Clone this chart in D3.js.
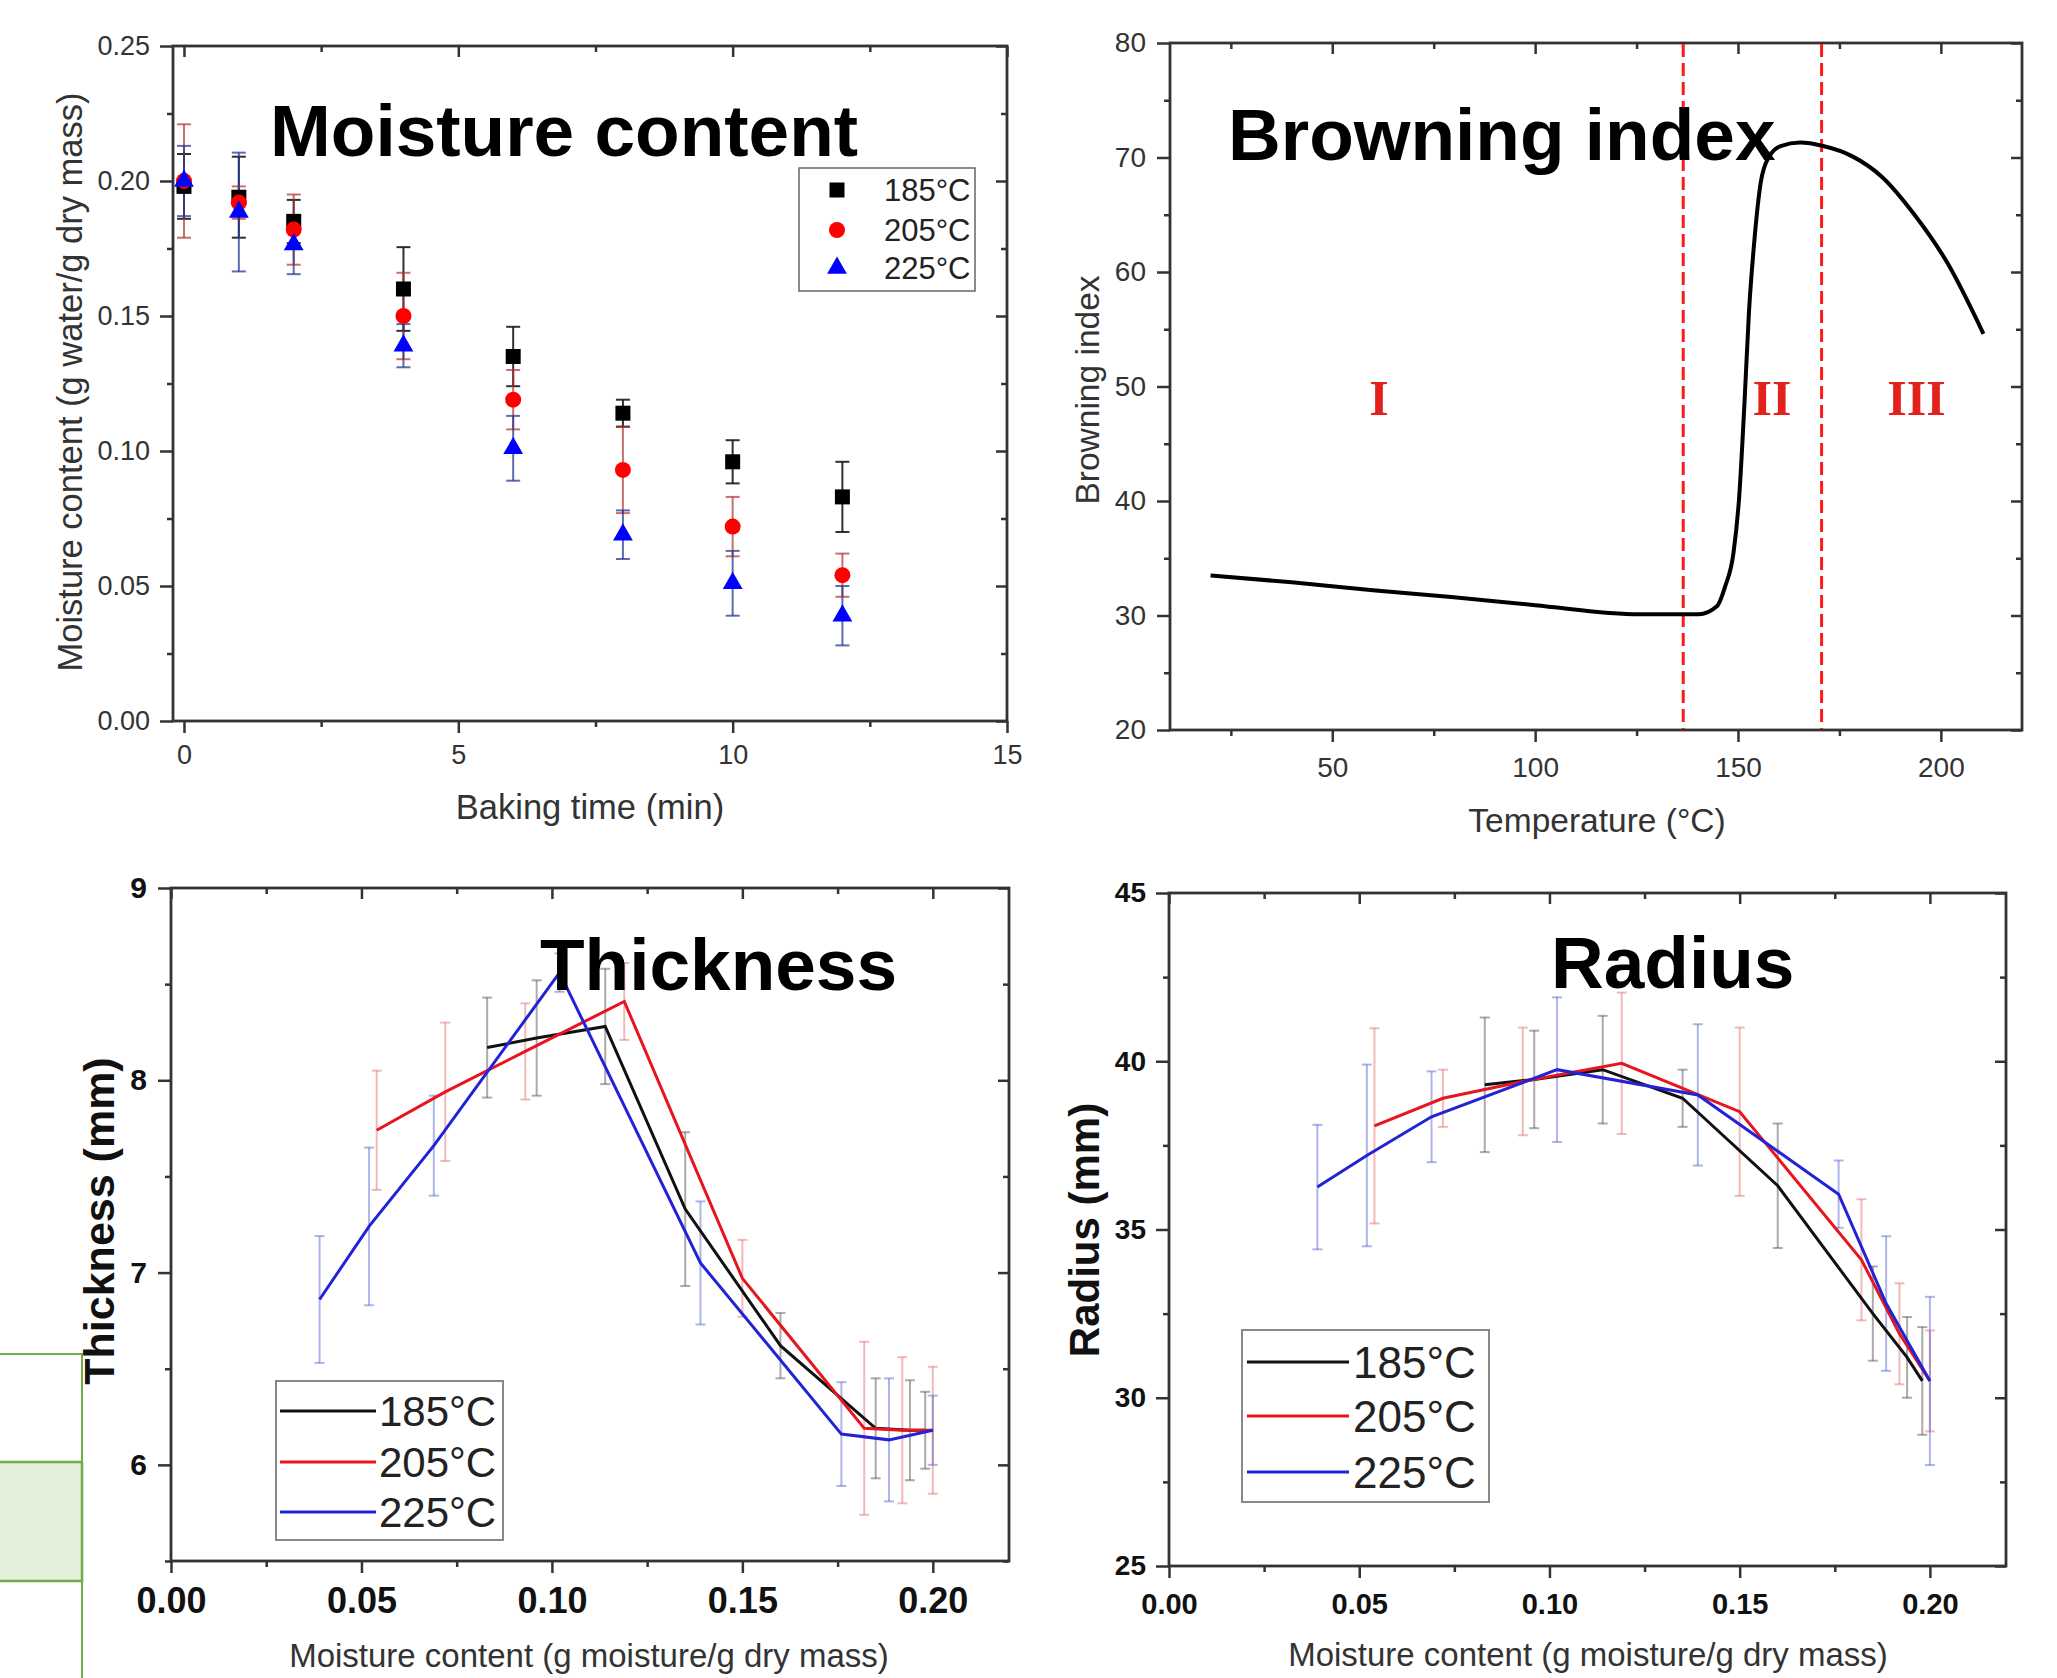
<!DOCTYPE html>
<html><head><meta charset="utf-8">
<script src="https://d3js.org/d3.v7.min.js"></script>
<style>
html,body{margin:0;padding:0;background:#fff;}
svg{display:block;}
</style></head>
<body>
<script>
// ---------- DATA ----------
// Panel 1: moisture content vs baking time
const bakingTimes = [0, 1, 2, 4, 6, 8, 10, 12];
const mc185 = [0.198, 0.194, 0.185, 0.160, 0.135, 0.114, 0.096, 0.083];
const mc185Err = [0.012, 0.015, 0.008, 0.0155, 0.011, 0.005, 0.008, 0.013];
const mc205 = [0.200, 0.192, 0.182, 0.150, 0.119, 0.093, 0.072, 0.054];
const mc205Err = [0.021, 0.006, 0.013, 0.016, 0.011, 0.016, 0.011, 0.008];
const mc225 = [0.200, 0.1885, 0.1765, 0.139, 0.101, 0.069, 0.051, 0.039];
const mc225Err = [0.013, 0.022, 0.011, 0.008, 0.012, 0.009, 0.012, 0.011];
const seriesLabels = ["185°C", "205°C", "225°C"];

// Panel 2: browning index vs temperature
const biTemp = [20, 40, 60, 80, 100, 125.8, 140.3, 144.8, 146.8, 148.9, 150.3, 151.6, 152.7, 154, 155.6, 157.7, 160.5, 165.3, 171, 178.2, 185.5, 193.5, 201.6, 210.5];
const biValue = [33.5, 32.9, 32.2, 31.6, 30.9, 30.1, 30.1, 30.8, 32.5, 35.5, 40.4, 48.6, 56.5, 62.6, 67.8, 70.1, 71.0, 71.3, 71.0, 70.1, 68.3, 65.0, 60.8, 54.6];
const zoneBounds = [136.5, 170.6];
const zoneLabels = ["I", "II", "III"];
const zoneLabelX = [61.5, 158.4, 194];

// Panel 3 & 4: thickness and radius vs moisture content
const mcX185 = [0.083, 0.096, 0.114, 0.135, 0.160, 0.185, 0.194, 0.198];
const mcX205 = [0.054, 0.072, 0.093, 0.119, 0.150, 0.182, 0.192, 0.200];
const mcX225 = [0.039, 0.052, 0.069, 0.102, 0.139, 0.176, 0.1885, 0.200];

const thick185 = [8.17, 8.22, 8.28, 7.33, 6.62, 6.19, 6.18, 6.18];
const thick185Err = [0.26, 0.30, 0.30, 0.40, 0.17, 0.26, 0.26, 0.20];
const thick205 = [7.74, 7.94, 8.15, 8.41, 6.97, 6.19, 6.18, 6.18];
const thick205Err = [0.31, 0.36, 0.25, 0.20, 0.20, 0.45, 0.38, 0.33];
const thick225 = [6.86, 7.24, 7.66, 8.56, 7.05, 6.16, 6.13, 6.18];
const thick225Err = [0.33, 0.41, 0.26, 0.10, 0.32, 0.27, 0.32, 0.18];

const rad185 = [39.3, 39.46, 39.75, 38.9, 36.3, 32.5, 31.2, 30.5];
const rad185Err = [2.0, 1.45, 1.6, 0.85, 1.85, 1.4, 1.2, 1.6];
const rad205 = [38.08, 38.9, 39.4, 39.94, 38.5, 34.1, 31.9, 30.5];
const rad205Err = [2.9, 0.85, 1.6, 2.1, 2.5, 1.8, 1.5, 1.5];
const rad225 = [36.26, 37.2, 38.35, 39.75, 39.0, 36.05, 32.8, 30.5];
const rad225Err = [1.85, 2.7, 1.35, 2.15, 2.1, 1.0, 2.0, 2.5];

// ---------- RENDER ----------
const W = 2057, H = 1678;
const svg = d3.select("body").append("svg").attr("width", W).attr("height", H)
  .style("font-family", "'Liberation Sans', Arial, sans-serif");

const colors = ["#000000", "#ff0000", "#0000ff"];

function range(a, b, s) { const r = []; for (let v = a; v <= b + 1e-9; v += s) r.push(+v.toFixed(6)); return r; }

function panel(cfg) {
  const x = d3.scaleLinear().domain(cfg.xd).range([cfg.x0, cfg.x1]);
  const y = d3.scaleLinear().domain(cfg.yd).range([cfg.y1, cfg.y0]);
  const g = svg.append("g");
  const axCol = "#333";
  const xMajor = cfg.xMajor, xMinor = cfg.xMinor.filter(v => !xMajor.some(m => Math.abs(m - v) < 1e-9));
  const yMajor = cfg.yMajor, yMinor = cfg.yMinor.filter(v => !yMajor.some(m => Math.abs(m - v) < 1e-9));
  function styleAxis(sel, fs, bold, col) {
    sel.select(".domain").remove();
    sel.selectAll("line").attr("stroke", axCol).attr("stroke-width", 2.5);
    sel.selectAll("text").attr("font-size", fs).attr("font-weight", bold ? "bold" : "normal")
      .attr("fill", col).attr("font-family", "'Liberation Sans', Arial, sans-serif");
  }
  // bottom
  g.append("g").attr("transform", `translate(0,${cfg.y1})`)
    .call(d3.axisBottom(x).tickValues(xMinor).tickSize(6).tickFormat("")).call(s => styleAxis(s));
  g.append("g").attr("transform", `translate(0,${cfg.y1})`)
    .call(d3.axisBottom(x).tickValues(xMajor).tickSize(12).tickPadding(cfg.xPad).tickFormat(cfg.xFmt))
    .call(s => styleAxis(s, cfg.xfs, cfg.bold, cfg.tickCol));
  // top (inward)
  g.append("g").attr("transform", `translate(0,${cfg.y0})`)
    .call(d3.axisTop(x).tickValues(xMinor).tickSize(-6).tickFormat("")).call(s => styleAxis(s));
  g.append("g").attr("transform", `translate(0,${cfg.y0})`)
    .call(d3.axisTop(x).tickValues(xMajor).tickSize(-11).tickFormat("")).call(s => styleAxis(s));
  // left
  g.append("g").attr("transform", `translate(${cfg.x0},0)`)
    .call(d3.axisLeft(y).tickValues(yMinor).tickSize(6).tickFormat("")).call(s => styleAxis(s));
  g.append("g").attr("transform", `translate(${cfg.x0},0)`)
    .call(d3.axisLeft(y).tickValues(yMajor).tickSize(13).tickPadding(cfg.yPad).tickFormat(cfg.yFmt))
    .call(s => styleAxis(s, cfg.yfs, cfg.bold, cfg.tickCol));
  // right (inward)
  g.append("g").attr("transform", `translate(${cfg.x1},0)`)
    .call(d3.axisRight(y).tickValues(yMinor).tickSize(-6).tickFormat("")).call(s => styleAxis(s));
  g.append("g").attr("transform", `translate(${cfg.x1},0)`)
    .call(d3.axisRight(y).tickValues(yMajor).tickSize(-11).tickFormat("")).call(s => styleAxis(s));
  // frame
  g.append("rect").attr("x", cfg.x0).attr("y", cfg.y0).attr("width", cfg.x1 - cfg.x0).attr("height", cfg.y1 - cfg.y0)
    .attr("fill", "none").attr("stroke", axCol).attr("stroke-width", 2.8);
  return { x, y, g };
}

function errBars(g, x, y, xs, ys, es, col, op, cap, sw) {
  xs.forEach((xv, i) => {
    const px = x(xv), yt = y(ys[i] + es[i]), yb = y(ys[i] - es[i]);
    g.append("line").attr("x1", px).attr("x2", px).attr("y1", yt).attr("y2", yb)
      .attr("stroke", col).attr("stroke-opacity", op).attr("stroke-width", sw);
    [yt, yb].forEach(yy => g.append("line").attr("x1", px - cap).attr("x2", px + cap).attr("y1", yy).attr("y2", yy)
      .attr("stroke", col).attr("stroke-opacity", op).attr("stroke-width", sw));
  });
}

// Green boxes (background decoration, left edge)
svg.append("rect").attr("x", -3).attr("y", 1354).attr("width", 85).attr("height", 108)
  .attr("fill", "#ffffff").attr("stroke", "#70ad47").attr("stroke-width", 2);
svg.append("rect").attr("x", -3).attr("y", 1462).attr("width", 85).attr("height", 119)
  .attr("fill", "#e2efda").attr("stroke", "#70ad47").attr("stroke-width", 2.5);
svg.append("line").attr("x1", 82).attr("x2", 82).attr("y1", 1581).attr("y2", H)
  .attr("stroke", "#70ad47").attr("stroke-width", 2);

// ---------- Panel 1 ----------
{
  const p = panel({ x0: 173, x1: 1007, y0: 46, y1: 721, xd: [-0.2, 15], yd: [0, 0.25],
    xMajor: [0, 5, 10, 15], xMinor: range(0, 15, 2.5), yMajor: range(0, 0.25, 0.05), yMinor: range(0, 0.25, 0.025),
    xFmt: d3.format("d"), yFmt: d3.format(".2f"), xfs: 27, yfs: 27, xPad: 12, yPad: 10, bold: false, tickCol: "#333" });
  const sets = [[mc185, mc185Err, "#1a1a1a", 0.9], [mc205, mc205Err, "#b03030", 0.7], [mc225, mc225Err, "#283c8c", 0.75]];
  sets.forEach(s => errBars(p.g, p.x, p.y, bakingTimes, s[0], s[1], s[2], s[3], 7, 2));
  const syms = [d3.symbol().type(d3.symbolSquare).size(225), d3.symbol().type(d3.symbolCircle).size(200), d3.symbol().type(d3.symbolTriangle).size(170)];
  [mc185, mc205, mc225].forEach((vals, k) => {
    p.g.selectAll(null).data(vals).enter().append("path").attr("d", syms[k]())
      .attr("transform", (d, i) => `translate(${p.x(bakingTimes[i])},${p.y(d)})`).attr("fill", colors[k]);
  });
  // legend
  const lg = svg.append("g");
  lg.append("rect").attr("x", 799).attr("y", 168).attr("width", 176).attr("height", 123)
    .attr("fill", "#fff").attr("stroke", "#666").attr("stroke-width", 1.5);
  [190, 230, 268].forEach((yy, k) => {
    lg.append("path").attr("d", syms[k]()).attr("transform", `translate(837,${yy})`).attr("fill", colors[k]);
    lg.append("text").attr("x", 884).attr("y", yy).attr("dy", "0.36em").attr("font-size", 31).attr("fill", "#222").text(seriesLabels[k]);
  });
  svg.append("text").attr("x", 590).attr("y", 807).attr("dy", "0.35em").attr("text-anchor", "middle")
    .attr("font-size", 34.5).attr("fill", "#333").text("Baking time (min)");
  svg.append("text").attr("transform", "translate(70,382) rotate(-90)").attr("dy", "0.35em").attr("text-anchor", "middle")
    .attr("font-size", 34.5).attr("fill", "#333").text("Moisture content (g water/g dry mass)");
  svg.append("text").attr("x", 270).attr("y", 156).attr("font-size", 73).attr("font-weight", "bold").attr("fill", "#000").text("Moisture content");
}

// ---------- Panel 2 ----------
{
  const p = panel({ x0: 1170, x1: 2022, y0: 43, y1: 730, xd: [10, 220], yd: [20, 80],
    xMajor: [50, 100, 150, 200], xMinor: range(25, 200, 25), yMajor: range(20, 80, 10), yMinor: range(20, 80, 5),
    xFmt: d3.format("d"), yFmt: d3.format("d"), xfs: 28, yfs: 28, xPad: 15, yPad: 11, bold: false, tickCol: "#333" });
  zoneBounds.forEach(b => p.g.append("line").attr("x1", p.x(b)).attr("x2", p.x(b)).attr("y1", 44).attr("y2", 729)
    .attr("stroke", "#ff1a1a").attr("stroke-width", 3).attr("stroke-dasharray", "13,6"));
  const line = d3.line().x((d, i) => p.x(biTemp[i])).y(d => p.y(d)).curve(d3.curveMonotoneX);
  p.g.append("path").attr("d", line(biValue)).attr("fill", "none").attr("stroke", "#000").attr("stroke-width", 4);
  zoneLabels.forEach((t, i) => p.g.append("text").attr("x", p.x(zoneLabelX[i])).attr("y", 415).attr("text-anchor", "middle")
    .attr("font-family", "'Liberation Serif', 'Times New Roman', serif").attr("font-weight", "bold")
    .attr("font-size", 50).attr("fill", "#e3201c").text(t));
  svg.append("text").attr("x", 1597).attr("y", 820).attr("dy", "0.35em").attr("text-anchor", "middle")
    .attr("font-size", 33.5).attr("fill", "#333").text("Temperature (°C)");
  svg.append("text").attr("transform", "translate(1087,390) rotate(-90)").attr("dy", "0.35em").attr("text-anchor", "middle")
    .attr("font-size", 33.5).attr("fill", "#333").text("Browning index");
  svg.append("text").attr("x", 1228).attr("y", 160).attr("font-size", 73).attr("font-weight", "bold").attr("fill", "#000").text("Browning index");
}

// ---------- Panel 3 & 4 helper ----------
function linePanel(cfg, ys, es, legend, title, ytitle) {
  const p = panel(cfg);
  const xs = [mcX185, mcX205, mcX225];
  const ebCol = ["#444", "#e05050", "#4a5ad0"];
  const ebOp = [0.45, 0.4, 0.45];
  [0, 1, 2].forEach(k => errBars(p.g, p.x, p.y, xs[k], ys[k], es[k], ebCol[k], ebOp[k], 5, 2));
  const lineCols = ["#111", "#e8141e", "#2323d6"];
  [0, 1, 2].forEach(k => {
    const line = d3.line().x((d, i) => p.x(xs[k][i])).y(d => p.y(d));
    p.g.append("path").attr("d", line(ys[k])).attr("fill", "none").attr("stroke", lineCols[k]).attr("stroke-width", 3);
  });
  const lg = svg.append("g");
  lg.append("rect").attr("x", legend.x).attr("y", legend.y).attr("width", legend.w).attr("height", legend.h)
    .attr("fill", "#fff").attr("stroke", "#888").attr("stroke-width", 2);
  legend.rows.forEach((yy, k) => {
    lg.append("line").attr("x1", legend.lx0).attr("x2", legend.lx1).attr("y1", yy).attr("y2", yy)
      .attr("stroke", lineCols[k]).attr("stroke-width", 3);
    lg.append("text").attr("x", legend.tx).attr("y", yy).attr("dy", "0.36em").attr("font-size", legend.fs)
      .attr("fill", "#222").text(seriesLabels[k]);
  });
  svg.append("text").attr("x", title.x).attr("y", title.y).attr("font-size", 73).attr("font-weight", "bold")
    .attr("fill", "#000").text(title.t);
  svg.append("text").attr("transform", `translate(${ytitle.x},${ytitle.y}) rotate(-90)`).attr("dy", "0.35em")
    .attr("text-anchor", "middle").attr("font-size", ytitle.fs).attr("font-weight", "bold").attr("fill", "#111").text(ytitle.t);
  svg.append("text").attr("x", cfg.xtx).attr("y", cfg.xty).attr("dy", "0.35em").attr("text-anchor", "middle")
    .attr("font-size", 33).attr("fill", "#333").text("Moisture content (g moisture/g dry mass)");
}

// ---------- Panel 3 ----------
linePanel({ x0: 171, x1: 1009, y0: 888, y1: 1561, xd: [0, 0.22], yd: [5.5, 9],
  xMajor: range(0, 0.2, 0.05), xMinor: range(0, 0.2, 0.025), yMajor: [6, 7, 8, 9], yMinor: range(5.5, 9, 0.5),
  xFmt: d3.format(".2f"), yFmt: d3.format("d"), xfs: 36, yfs: 30, xPad: 14, yPad: 11, bold: true, tickCol: "#111",
  xtx: 589, xty: 1655 },
  [thick185, thick205, thick225], [thick185Err, thick205Err, thick225Err],
  { x: 276, y: 1381, w: 227, h: 159, rows: [1411, 1462, 1512], lx0: 280, lx1: 376, tx: 379, fs: 42 },
  { t: "Thickness", x: 540, y: 990 }, { t: "Thickness (mm)", x: 99, y: 1221, fs: 43 });

// ---------- Panel 4 ----------
linePanel({ x0: 1169, x1: 2006, y0: 893, y1: 1566, xd: [0, 0.22], yd: [25, 45],
  xMajor: range(0, 0.2, 0.05), xMinor: range(0, 0.2, 0.025), yMajor: range(25, 45, 5), yMinor: range(25, 45, 2.5),
  xFmt: d3.format(".2f"), yFmt: d3.format("d"), xfs: 29, yfs: 28, xPad: 15, yPad: 10, bold: true, tickCol: "#111",
  xtx: 1588, xty: 1654 },
  [rad185, rad205, rad225], [rad185Err, rad205Err, rad225Err],
  { x: 1242, y: 1330, w: 247, h: 172, rows: [1362, 1416, 1472], lx0: 1247, lx1: 1349, tx: 1353, fs: 44 },
  { t: "Radius", x: 1551, y: 988 }, { t: "Radius (mm)", x: 1084, y: 1230, fs: 42 });
</script>
</body></html>
